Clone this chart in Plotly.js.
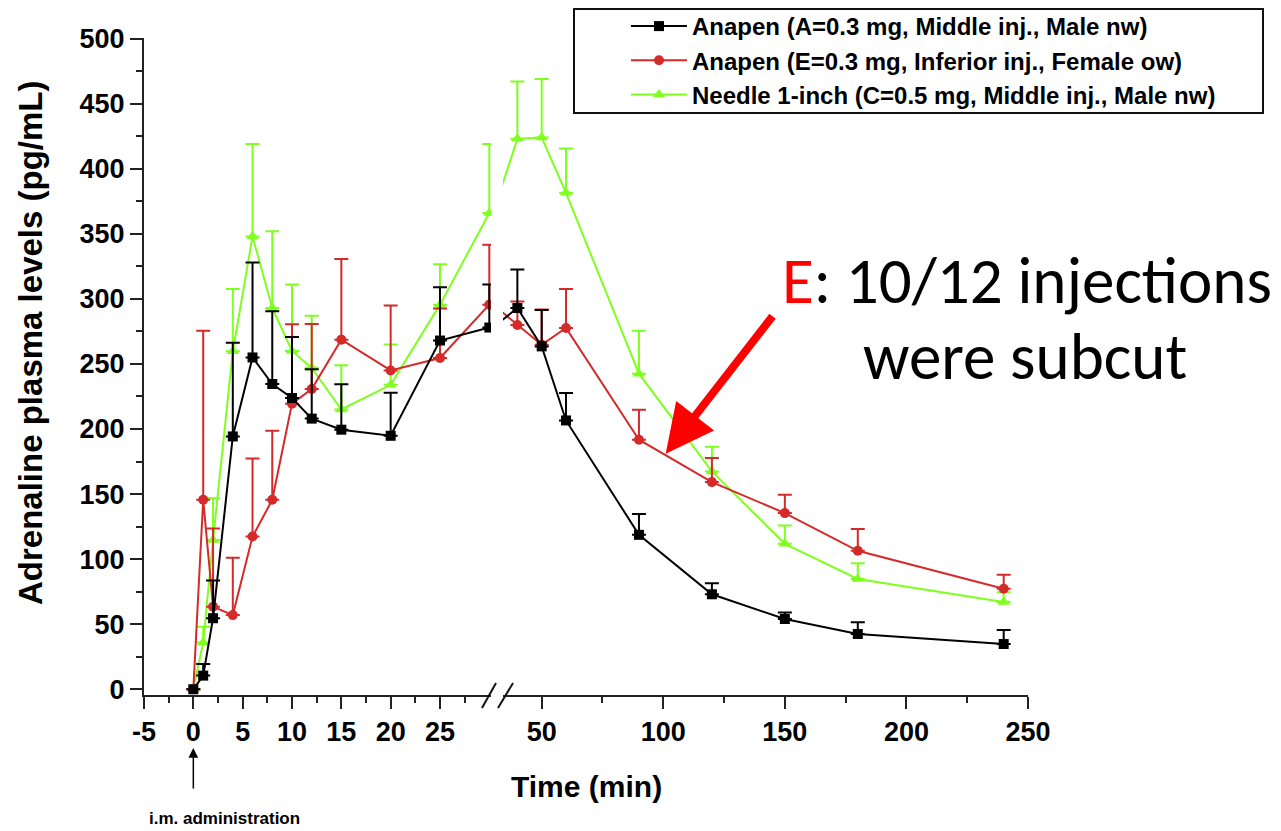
<!DOCTYPE html>
<html>
<head>
<meta charset="utf-8">
<script src="https://cdn.plot.ly/plotly-3.0.1.min.js"></script>
<style>html,body{margin:0;padding:0;background:#fff;}#chart{width:1281px;height:831px;}</style>
</head>
<body>
<div id="chart"></div>
<script>
// Time points (min)
const times = [0, 1, 2, 4, 6, 8, 10, 12, 15, 20, 25, 30, 40, 50, 60, 90, 120, 150, 180, 240];

// Anapen (A=0.3 mg, Middle inj., Male nw)
const seriesA = [0, 10.5, 54.6, 194.3, 255, 234.6, 223.8, 208, 199.5, 194.8, 268, 278, 293, 263.5, 206.6, 118.7, 73, 54, 42.5, 34.8];
const errA    = [0, 9, 29, 72, 73, 56, 47, 38, 35, 33, 41, 33, 29.5, 28, 21, 16, 8.5, 5, 9, 10.8];

// Anapen (E=0.3 mg, Inferior inj., Female ow)
const seriesE = [0, 145.6, 63.5, 57, 117.4, 145.6, 219.5, 230.8, 268.7, 245, 254.6, 295.6, 280, 264.8, 277.7, 191.8, 159.2, 135.4, 106.4, 77.2];
const errE    = [0, 130, 60, 44, 60, 53, 61, 50, 62, 50, 38, 46, 18, 27, 30, 23, 18.5, 14, 16.7, 10.8];

// Needle 1-inch (C=0.5 mg, Middle inj., Male nw)
const seriesC = [0, 36, 114.8, 259.7, 348, 293, 260, 247, 215, 234, 295.6, 366, 423, 424, 381.5, 242.5, 167.4, 111.8, 84.8, 67];
const errC    = [0, 12, 32, 48, 71, 59, 51, 40, 34, 31, 31, 53, 44, 45, 34, 33, 19, 14, 12, 7.6];

const names = [
  'Anapen (A=0.3 mg, Middle inj., Male nw)',
  'Anapen (E=0.3 mg, Inferior inj., Female ow)',
  'Needle 1-inch (C=0.5 mg, Middle inj., Male nw)'
];

// Axis ticks
const leftTicks = [-5, 0, 5, 10, 15, 20, 25];
const leftMinor = [-2.5, 2.5, 7.5, 12.5, 17.5, 22.5, 27.5];
const rightTicks = [50, 100, 150, 200, 250];
const rightMinor = [75, 125, 175, 225];
const yTicks = [0, 50, 100, 150, 200, 250, 300, 350, 400, 450, 500];

const styles = [
  {color: '#000000', symbol: 'square', size: 10},
  {color: '#d42a2a', symbol: 'circle', size: 10},
  {color: '#7fff1f', symbol: 'triangle-up', size: 11}
];
const allY = [seriesA, seriesE, seriesC];
const allErr = [errA, errE, errC];

const BREAK_LEFT_END = 40;   // left panel carries points up to here (clipped)
const BREAK_RIGHT_START = 30; // right panel carries points from here (clipped)

function pick(arr, cond) { return arr.filter((v, i) => cond(times[i])); }

const traces = [];
[2, 1, 0].forEach(k => {
  const st = styles[k];
  const mk = (side) => {
    const cond = side === 'L' ? (t => t <= BREAK_LEFT_END) : (t => t >= BREAK_RIGHT_START);
    const err = pick(allErr[k], cond);
    return {
      type: 'scatter', mode: 'lines+markers',
      x: pick(times, cond), y: pick(allY[k], cond),
      xaxis: side === 'L' ? 'x' : 'x2', yaxis: 'y',
      name: names[k], legendgroup: 'g' + k, legendrank: k + 1,
      showlegend: side === 'L',
      line: {color: st.color, width: 2},
      marker: {color: st.color, symbol: st.symbol, size: st.size},
      error_y: {type: 'data', symmetric: false, array: err, arrayminus: err.map(() => 0),
                color: st.color, thickness: 2, width: 7},
      cliponaxis: true
    };
  };
  traces.push(mk('L'), mk('R'));
});

const W = 1281, H = 831;
const L = 144, R = 1028, T = 38, B = 695;
const pw = R - L, ph = B - T;
const px = p => (p - L) / pw;
const py = p => (B - p) / ph;

const axisCommon = {
  showgrid: false, zeroline: false, showline: true, linecolor: '#222', linewidth: 2,
  ticks: 'outside', ticklen: 12, tickwidth: 2, tickcolor: '#222',
  tickfont: {family: 'Liberation Sans, Arial, sans-serif', size: 27, color: '#000', weight: 'bold'},
  tickmode: 'array', fixedrange: true
};

const layout = {
  width: W, height: H,
  margin: {l: L, r: W - R, t: T, b: H - B, pad: 0, autoexpand: false},
  paper_bgcolor: '#ffffff', plot_bgcolor: '#ffffff',
  showlegend: true,
  legend: {
    x: px(626), y: py(4), xanchor: 'left', yanchor: 'top',
    bgcolor: 'rgba(0,0,0,0)', borderwidth: 0, tracegroupgap: 0, itemwidth: 56,
    font: {family: 'Liberation Sans, Arial, sans-serif', size: 24, color: '#000', weight: 'bold'}
  },
  xaxis: Object.assign({}, axisCommon, {
    domain: [0, px(491)], range: [-5, 30.17], anchor: 'y',
    tickvals: leftTicks, ticktext: leftTicks.map(String),
    minor: {tickmode: 'array', tickvals: leftMinor, ticks: 'outside', ticklen: 6, tickwidth: 2, tickcolor: '#222', showgrid: false}
  }),
  xaxis2: Object.assign({}, axisCommon, {
    domain: [px(503), 1], range: [34.09, 250], anchor: 'y',
    tickvals: rightTicks, ticktext: rightTicks.map(String),
    minor: {tickmode: 'array', tickvals: rightMinor, ticks: 'outside', ticklen: 6, tickwidth: 2, tickcolor: '#222', showgrid: false}
  }),
  yaxis: Object.assign({}, axisCommon, {
    domain: [0, 1], range: [-4.4, 500.5], anchor: 'x',
    tickvals: yTicks, ticktext: yTicks.map(String),
    minor: {tickmode: 'linear', tick0: 25, dtick: 50, ticks: 'outside', ticklen: 6, tickwidth: 2, tickcolor: '#222', showgrid: false}
  }),
  shapes: [
    // legend frame
    {type: 'rect', xref: 'paper', yref: 'paper', x0: px(574), x1: px(1263), y0: py(9), y1: py(113),
     line: {color: '#111', width: 2}, fillcolor: 'rgba(0,0,0,0)'},
    // axis break marks
    {type: 'line', xref: 'paper', yref: 'paper', x0: px(482), y0: py(708), x1: px(496), y1: py(683), line: {color: '#111', width: 2}},
    {type: 'line', xref: 'paper', yref: 'paper', x0: px(498), y0: py(708), x1: px(513), y1: py(683), line: {color: '#111', width: 2}}
  ],
  annotations: [
    {xref: 'paper', yref: 'paper', x: px(30), y: py(343), text: 'Adrenaline plasma levels (pg/mL)', textangle: -90,
     showarrow: false, xanchor: 'center', yanchor: 'middle',
     font: {family: 'Liberation Sans, Arial, sans-serif', size: 33, color: '#000', weight: 'bold'}},
    {xref: 'paper', yref: 'paper', x: px(586), y: py(786), text: 'Time (min)', showarrow: false,
     xanchor: 'center', yanchor: 'middle',
     font: {family: 'Liberation Sans, Arial, sans-serif', size: 30, color: '#000', weight: 'bold'}},
    {xref: 'paper', yref: 'paper', x: px(224), y: py(818), text: 'i.m. administration', showarrow: false,
     xanchor: 'center', yanchor: 'middle',
     font: {family: 'Liberation Sans, Arial, sans-serif', size: 17, color: '#000', weight: 'bold'}},
    {xref: 'x', yref: 'paper', x: 0, y: py(748), text: '', showarrow: true, ax: 0, ay: 42,
     arrowhead: 2, arrowsize: 1.3, arrowwidth: 1.5, arrowcolor: '#000', standoff: 0},
    {xref: 'paper', yref: 'paper', x: px(1027), y: py(280),
     text: "<span style='color:#ff0000'>E</span>: 10/12 injections", showarrow: false,
     xanchor: 'center', yanchor: 'middle',
     font: {family: 'Carlito, Calibri, Open Sans, sans-serif', size: 65, color: '#000'}},
    {xref: 'paper', yref: 'paper', x: px(1025), y: py(356), text: 'were subcut', showarrow: false,
     xanchor: 'center', yanchor: 'middle',
     font: {family: 'Carlito, Calibri, Open Sans, sans-serif', size: 65, color: '#000'}},
    {xref: 'x2', yref: 'y', x: 101, y: 181, text: '', showarrow: true, ax: 108, ay: -139,
     arrowhead: 2, arrowsize: 1.2, arrowwidth: 8, arrowcolor: '#ff0000', standoff: 0}
  ]
};

Plotly.newPlot('chart', traces, layout, {displayModeBar: false, staticPlot: true});
</script>
</body>
</html>
